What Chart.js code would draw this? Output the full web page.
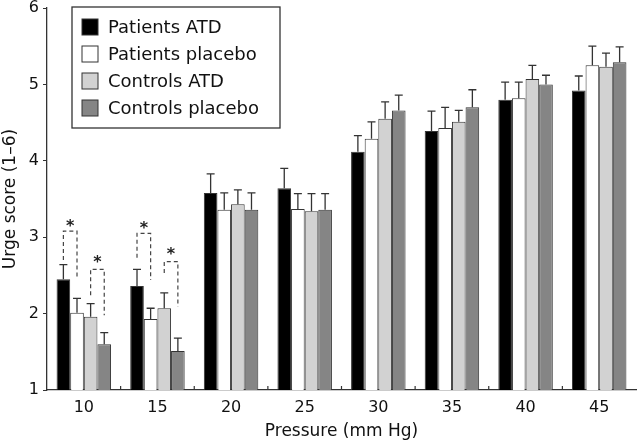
<!DOCTYPE html>
<html>
<head>
<meta charset="utf-8">
<script src="https://cdn.jsdelivr.net/npm/chart.js@4"></script>
<style>
  html, body { margin: 0; padding: 0; background: #fff; }
  #wrap { width: 640px; height: 446px; }
</style>
</head>
<body>
<div id="wrap"><canvas id="urgeChart" width="640" height="446"></canvas></div>
<script>
const pressures = ['10', '15', '20', '25', '30', '35', '40', '45'];

const patientsAtd = [2.45, 2.36, 3.58, 3.64, 4.12, 4.39, 4.80, 4.92];
const patientsPlacebo = [2.01, 1.93, 3.36, 3.37, 4.29, 4.43, 4.82, 5.25];
const controlsAtd = [1.96, 2.07, 3.43, 3.34, 4.55, 4.51, 5.07, 5.23];
const controlsPlacebo = [1.60, 1.51, 3.36, 3.36, 4.66, 4.70, 5.00, 5.29];

// upper error (SEM) for each bar
const patientsAtdErr = [0.19, 0.22, 0.25, 0.26, 0.21, 0.26, 0.23, 0.19];
const patientsPlaceboErr = [0.19, 0.14, 0.22, 0.20, 0.22, 0.27, 0.21, 0.25];
const controlsAtdErr = [0.17, 0.20, 0.19, 0.23, 0.22, 0.15, 0.18, 0.18];
const controlsPlaceboErr = [0.15, 0.17, 0.22, 0.21, 0.20, 0.23, 0.12, 0.20];

// significance brackets: category, left dataset, right dataset, top, left leg end, right leg end, star
const brackets = [
  [0, 0, 1, 3.08, 2.70, 2.48, 3.17],
  [0, 2, 3, 2.58, 2.24, 1.98, 2.70],
  [1, 0, 1, 3.05, 2.73, 2.44, 3.15],
  [1, 2, 3, 2.68, 2.53, 2.09, 2.81]
];

const fontName = 'DejaVu Sans';
const inkColor = '#333';

const extras = {
  id: 'extras',
  afterDatasetsDraw(chart) {
    const ctx = chart.ctx;
    const y = chart.scales.y;
    const x = chart.scales.x;
    const area = chart.chartArea;
    ctx.save();
    // error bars
    ctx.strokeStyle = inkColor;
    ctx.lineWidth = 1.3;
    chart.data.datasets.forEach((ds, di) => {
      chart.getDatasetMeta(di).data.forEach((bar, i) => {
        const top = y.getPixelForValue(ds.data[i] + ds.err[i]);
        ctx.beginPath();
        ctx.moveTo(bar.x, bar.y);
        ctx.lineTo(bar.x, top);
        ctx.moveTo(bar.x - 4, top);
        ctx.lineTo(bar.x + 4, top);
        ctx.stroke();
      });
    });
    // significance brackets
    ctx.setLineDash([4, 3]);
    ctx.strokeStyle = '#444';
    ctx.lineWidth = 1.2;
    brackets.forEach(b => {
      const xl = chart.getDatasetMeta(b[1]).data[b[0]].x;
      const xr = chart.getDatasetMeta(b[2]).data[b[0]].x;
      ctx.beginPath();
      ctx.moveTo(xl, y.getPixelForValue(b[4]));
      ctx.lineTo(xl, y.getPixelForValue(b[3]));
      ctx.lineTo(xr, y.getPixelForValue(b[3]));
      ctx.lineTo(xr, y.getPixelForValue(b[5]));
      ctx.stroke();
    });
    ctx.setLineDash([]);
    ctx.fillStyle = '#222';
    ctx.font = 'bold 16px ' + fontName;
    ctx.textAlign = 'center';
    ctx.textBaseline = 'middle';
    brackets.forEach(b => {
      const xl = chart.getDatasetMeta(b[1]).data[b[0]].x;
      const xr = chart.getDatasetMeta(b[2]).data[b[0]].x;
      ctx.fillText('*', (xl + xr) / 2, y.getPixelForValue(b[6]) + 3);
    });
    // inward tick marks between categories
    ctx.strokeStyle = inkColor;
    ctx.lineWidth = 1.2;
    for (let i = 0; i < pressures.length - 1; i++) {
      const px = (x.getPixelForValue(i) + x.getPixelForValue(i + 1)) / 2;
      ctx.beginPath();
      ctx.moveTo(px, area.bottom);
      ctx.lineTo(px, area.bottom - 4);
      ctx.stroke();
    }
    // legend box
    const lx = area.left + 25, ly = 7, lw = 208, lh = 121;
    ctx.strokeStyle = inkColor;
    ctx.lineWidth = 1.3;
    ctx.fillStyle = '#fff';
    ctx.fillRect(lx, ly, lw, lh);
    ctx.strokeRect(lx, ly, lw, lh);
    ctx.font = '18px ' + fontName;
    ctx.textAlign = 'left';
    ctx.textBaseline = 'middle';
    chart.data.datasets.forEach((ds, di) => {
      const cy = ly + 20 + di * 27;
      ctx.fillStyle = ds.backgroundColor;
      ctx.fillRect(lx + 10, cy - 8, 16, 16);
      ctx.strokeStyle = inkColor;
      ctx.lineWidth = 1;
      ctx.strokeRect(lx + 10, cy - 8, 16, 16);
      ctx.fillStyle = '#111';
      ctx.fillText(ds.label, lx + 36, cy + 1);
    });
    ctx.restore();
  }
};

function makeSet(label, data, err, color) {
  return {
    label: label,
    data: data,
    err: err,
    backgroundColor: color,
    borderColor: inkColor,
    borderWidth: 1,
    borderSkipped: false
  };
}

new Chart(document.getElementById('urgeChart'), {
  type: 'bar',
  data: {
    labels: pressures,
    datasets: [
      makeSet('Patients ATD', patientsAtd, patientsAtdErr, '#000000'),
      makeSet('Patients placebo', patientsPlacebo, patientsPlaceboErr, '#ffffff'),
      makeSet('Controls ATD', controlsAtd, controlsAtdErr, '#d2d2d2'),
      makeSet('Controls placebo', controlsPlacebo, controlsPlaceboErr, '#858585')
    ]
  },
  options: {
    responsive: false,
    animation: false,
    layout: { padding: { top: 8, right: 4, bottom: 0, left: 0 } },
    categoryPercentage: 0.74,
    barPercentage: 1.0,
    plugins: {
      legend: { display: false },
      tooltip: { enabled: false }
    },
    scales: {
      x: {
        afterFit(scale) { scale.height = 56; },
        grid: { display: false, drawTicks: false },
        border: { color: inkColor, width: 1.3 },
        ticks: { color: '#111', font: { family: fontName, size: 16 }, padding: 8 },
        title: {
          display: true,
          text: 'Pressure (mm Hg)',
          color: '#111',
          font: { family: fontName, size: 17 },
          padding: { top: 0, bottom: 4 }
        }
      },
      y: {
        min: 1,
        max: 6,
        afterFit(scale) { scale.width = 47; scale.paddingTop = 0; scale.paddingBottom = 0; },
        grid: { drawOnChartArea: false, tickLength: 4, color: inkColor },
        border: { color: inkColor, width: 1.3 },
        ticks: { stepSize: 1, color: '#111', font: { family: fontName, size: 16 }, padding: 4 },
        title: {
          display: true,
          text: 'Urge score (1–6)',
          color: '#111',
          font: { family: fontName, size: 17 },
          padding: { top: 0, bottom: 0 }
        }
      }
    }
  },
  plugins: [extras]
});
</script>
</body>
</html>
